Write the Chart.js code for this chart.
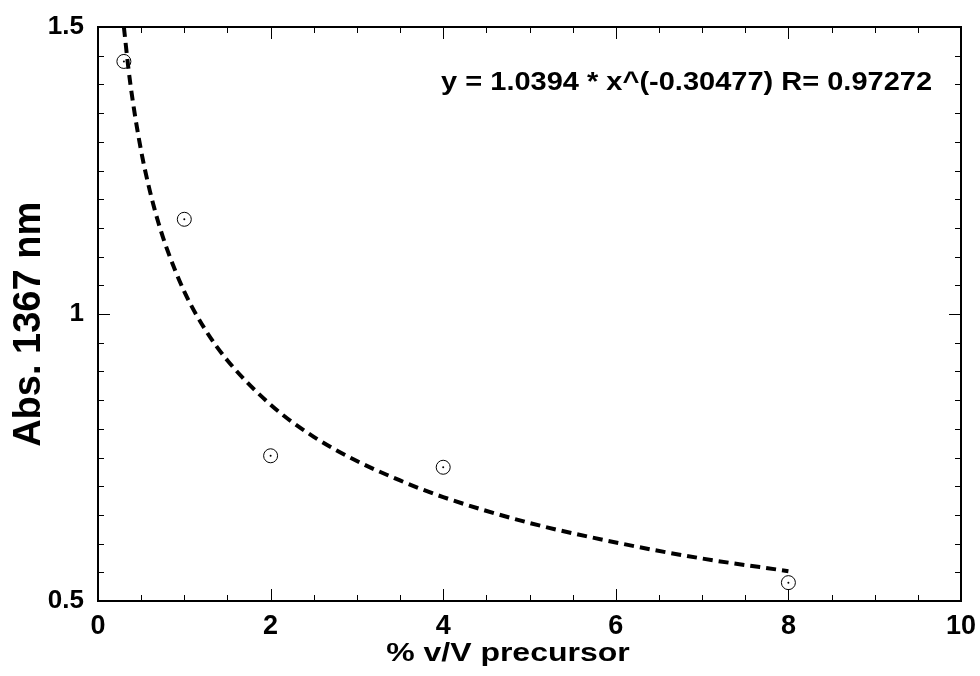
<!DOCTYPE html>
<html><head><meta charset="utf-8">
<script src="https://cdn.jsdelivr.net/npm/chart.js@4"></script>
<style>html,body{margin:0;padding:0;background:#fff}#wrap{width:980px;height:676px}</style>
</head><body><div id="wrap"><canvas id="c" width="980" height="676"></canvas></div>
<script>
// measured points
const dataX = [0.3, 1, 2, 4, 8];
const dataY = [1.44, 1.165, 0.753, 0.733, 0.532];
// fitted curve (y = 1.0394 * x^(-0.30477))
const fitX = [0.30, 0.35, 0.40, 0.50, 0.60, 0.70, 0.80, 1.00, 1.25, 1.50, 2.00, 2.50, 3.00, 3.50, 4.00, 5.00, 6.00, 7.00, 8.00];
const fitY = [1.500, 1.431, 1.374, 1.284, 1.215, 1.159, 1.113, 1.039, 0.971, 0.919, 0.842, 0.786, 0.744, 0.710, 0.681, 0.636, 0.602, 0.574, 0.552];
const xTicks = [0, 2, 4, 6, 8, 10];
const yTicks = [0.5, 1, 1.5];
const xTitle = '% v/V precursor';
const yTitle = 'Abs. 1367 nm';
const fitLabel = 'y = 1.0394 * x^(-0.30477) R= 0.97272';

const FONT = "'Liberation Sans', Arial, sans-serif";
const pts = dataX.map((x, i) => ({x, y: dataY[i]}));
const fit = fitX.map((x, i) => ({x, y: fitY[i]}));

const frame = {
  id: 'frame',
  afterDraw(chart) {
    const {ctx, chartArea: a, scales: {x, y}} = chart;
    ctx.save();
    ctx.strokeStyle = '#000';
    const line = (x1, y1, x2, y2) => { ctx.beginPath(); ctx.moveTo(x1, y1); ctx.lineTo(x2, y2); ctx.stroke(); };
    ctx.lineWidth = 1;
    for (let i = 0; i <= 20; i++) {
      const v = i * 0.5;
      const px = Math.round(x.getPixelForValue(v)) + 0.5;
      const L = (i % 4 === 0) ? 12 : 6;
      line(px, a.bottom, px, a.bottom - L);
      line(px, a.top, px, a.top + L);
    }
    for (let i = 0; i <= 20; i++) {
      const v = 0.5 + i * 0.05;
      const py = Math.round(y.getPixelForValue(v)) + 0.5;
      const L = (i % 10 === 0) ? 12 : 6;
      line(a.left, py, a.left + L, py);
      line(a.right, py, a.right - L, py);
    }
    ctx.lineWidth = 2;
    ctx.strokeRect(a.left, a.top, a.right - a.left, a.bottom - a.top);
    ctx.fillStyle = '#000';
    ctx.textAlign = 'center';
    ctx.textBaseline = 'middle';
    // equation label (text rendered slightly wider, as in the original)
    ctx.save();
    ctx.font = 'bold 25px ' + FONT;
    ctx.translate(x.getPixelForValue(6.82), y.getPixelForValue(1.403));
    ctx.scale(1.16, 1);
    ctx.fillText(fitLabel, 0, 0);
    ctx.restore();
    // x axis title
    ctx.save();
    ctx.font = 'bold 26px ' + FONT;
    ctx.translate(x.getPixelForValue(4.75), a.bottom + 53);
    ctx.scale(1.23, 1);
    ctx.fillText(xTitle, 0, 0);
    ctx.restore();
    // y axis title
    ctx.save();
    ctx.font = 'bold 38px ' + FONT;
    ctx.translate(30, y.getPixelForValue(0.982));
    ctx.rotate(-Math.PI / 2);
    ctx.fillText(yTitle, 0, 0);
    ctx.restore();
    ctx.restore();
  }
};

new Chart(document.getElementById('c'), {
  type: 'scatter',
  data: {
    datasets: [
      {
        type: 'line', data: fit, borderColor: '#000', borderWidth: 4,
        borderDash: [10, 6], pointRadius: 0, fill: false,
        cubicInterpolationMode: 'monotone', order: 2
      },
      {
        data: pts, pointStyle: 'circle', pointRadius: 7, borderWidth: 1,
        borderColor: '#000', backgroundColor: 'rgba(255,255,255,0)', order: 1
      },
      {
        data: pts, pointStyle: 'circle', pointRadius: 1, borderWidth: 0,
        backgroundColor: '#000', order: 0
      }
    ]
  },
  options: {
    responsive: false, animation: false, devicePixelRatio: 1,
    layout: {padding: {top: 27, right: 19, left: 0, bottom: 0}},
    plugins: {legend: {display: false}, tooltip: {enabled: false}},
    scales: {
      x: {
        type: 'linear', min: 0, max: 10,
        afterFit(s) { s.height = 75; s.paddingRight = 0; s.paddingLeft = 0; },
        afterBuildTicks(s) { s.ticks = xTicks.map(v => ({value: v})); },
        border: {display: false},
        grid: {display: false, drawTicks: false},
        ticks: {color: '#000', padding: 9, font: {family: FONT, size: 27, weight: 'bold'}, maxRotation: 0},
        title: {display: false, text: xTitle}
      },
      y: {
        type: 'linear', min: 0.5, max: 1.5,
        afterFit(s) { s.width = 98; s.paddingTop = 0; s.paddingBottom = 0; },
        afterBuildTicks(s) { s.ticks = yTicks.map(v => ({value: v})); },
        border: {display: false},
        grid: {display: false, drawTicks: false},
        ticks: {color: '#000', padding: 14, font: {family: FONT, size: 26, weight: 'bold'},
          callback: v => String(v)},
        title: {display: false, text: yTitle}
      }
    }
  },
  plugins: [frame]
});
</script>
</body></html>
